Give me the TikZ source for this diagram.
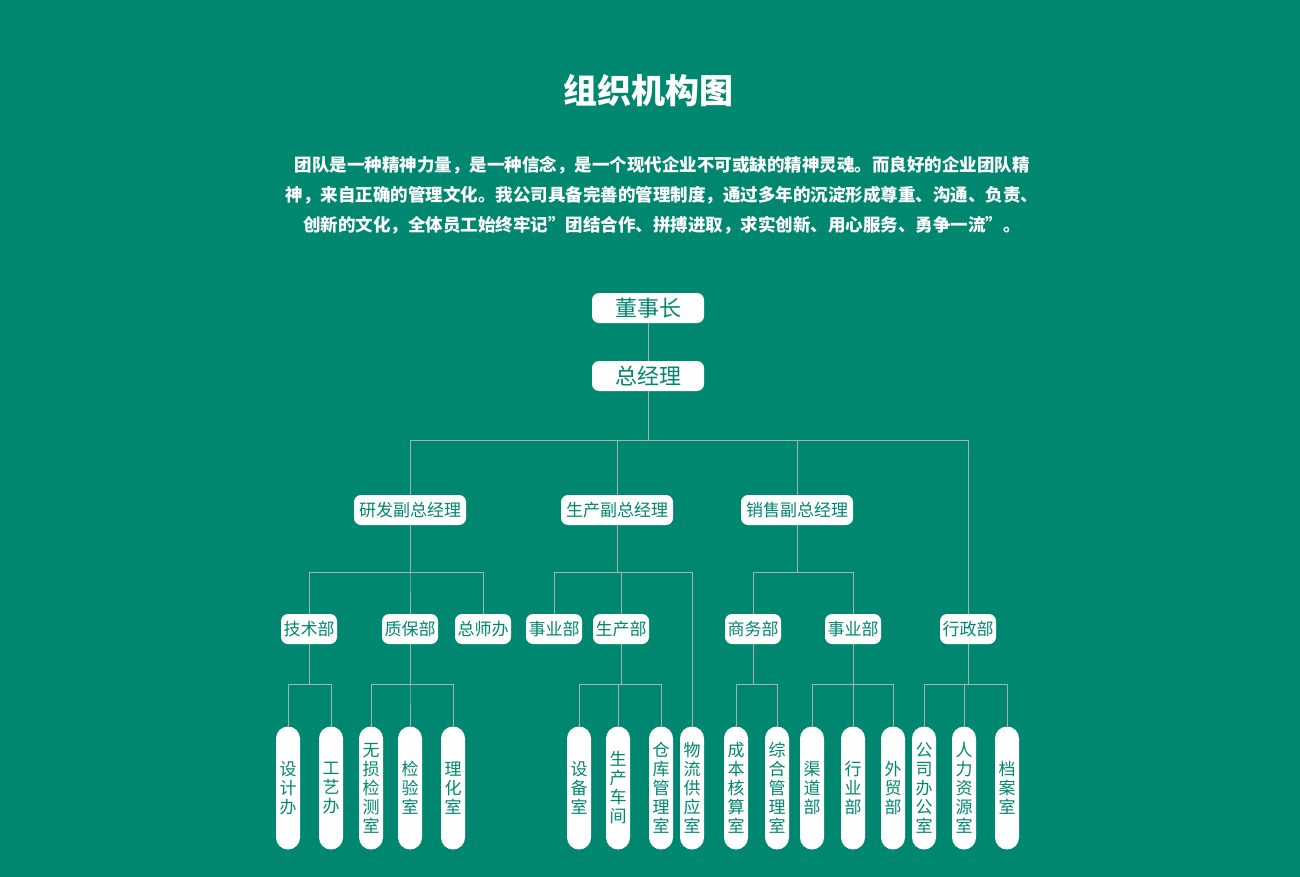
\documentclass[tikz,border=0pt]{standalone}
\usepackage{fontspec}
\setmainfont{Noto Sans CJK SC}
\usetikzlibrary{positioning}
\definecolor{teal}{RGB}{0,135,112}
\definecolor{linegray}{RGB}{170,178,176}
\begin{document}
\begin{tikzpicture}[x=1pt,y=-1pt]
    \tikzstyle{box}=[fill=white,text=teal,rounded corners=7pt,inner sep=0pt,minimum height=30pt]
    \tikzstyle{pill}=[fill=white,text=teal,rounded corners=12pt,inner sep=0pt,minimum width=24pt,minimum height=123pt,align=center,font=\fontsize{17}{19}\selectfont]
    \tikzstyle{link}=[linegray,line width=0.9pt]

    % Background
    \fill[teal] (0,0) rectangle (1300,877);

    % Title and text
    \node[white,font=\bfseries\fontsize{34}{40}\selectfont] (title) at (648,90) {组织机构图};
    \node[white,font=\bfseries\fontsize{17.5}{20}\selectfont] (l1) at (662,165) {团队是一种精神力量，是一种信念，是一个现代企业不可或缺的精神灵魂。而良好的企业团队精};
    \node[white,font=\bfseries\fontsize{17.5}{20}\selectfont] (l2) at (662,195) {神，来自正确的管理文化。我公司具备完善的管理制度，通过多年的沉淀形成尊重、沟通、负责、};
    \node[white,font=\bfseries\fontsize{17.5}{20}\selectfont] (l3) at (662,225) {创新的文化，全体员工始终牢记"团结合作、拼搏进取，求实创新、用心服务、勇争一流"。};

    % Top levels
    \node[box,minimum width=112pt,font=\fontsize{22}{26}\selectfont] (dsz) at (648,308) {董事长};
    \node[box,minimum width=112pt,font=\fontsize{22}{26}\selectfont] (zjl) at (648,376) {总经理};
    \node[box,minimum width=112pt,font=\fontsize{17}{20}\selectfont] (yf) at (410,510) {研发副总经理};
    \node[box,minimum width=112pt,font=\fontsize{17}{20}\selectfont] (sc) at (617,510) {生产副总经理};
    \node[box,minimum width=112pt,font=\fontsize{17}{20}\selectfont] (xs) at (797,510) {销售副总经理};

    % Departments
    \foreach \name/\x/\txt in {jsb/309/技术部, zbb/410/质保部, zsb/483/总师办, syb/554/事业部, scb/621/生产部, swb/753/商务部, syb2/853/事业部, xzb/968/行政部}
        \node[box,minimum width=56pt,font=\fontsize{17}{20}\selectfont] (\name) at (\x,629) {\txt};

    % Offices
    \foreach \name/\x/\txt in {sjb/288/设\\计\\办, gyb/331/工\\艺\\办, wsj/371/无\\损\\检\\测\\室, jys/410/检\\验\\室, lhs/453/理\\化\\室,
        sbs/579/设\\备\\室, scj/618/生\\产\\车\\间, ckg/661/仓\\库\\管\\理\\室, wlg/692/物\\流\\供\\应\\室,
        cbh/736/成\\本\\核\\算\\室, zhg/777/综\\合\\管\\理\\室, qdb/812/渠\\道\\部, hyb/853/行\\业\\部, wmb/893/外\\贸\\部,
        gsb/924/公\\司\\办\\公\\室, rlz/964/人\\力\\资\\源\\室, das/1007/档\\案\\室}
        \node[pill] (\name) at (\x,788) {\txt};

    % Bar levels
    \coordinate (bar0) at (0,440);
    \coordinate (bar1) at (0,572);
    \coordinate (bar2) at (0,684);

    % Connectors
    \draw[link] (dsz) -- (zjl);
    \draw[link] (zjl.south) -- (zjl.south|-bar0);
    \foreach \c in {yf,sc,xs,xzb}
        \draw[link] (zjl.south|-bar0) -| (\c.north);
    \foreach \c in {jsb,zbb,zsb}
        \draw[link] (yf.south) |- (yf.south|-bar1) -| (\c.north);
    \foreach \c in {syb,scb,wlg}
        \draw[link] (sc.south) |- (sc.south|-bar1) -| (\c.north);
    \foreach \c in {swb,syb2}
        \draw[link] (xs.south) |- (xs.south|-bar1) -| (\c.north);
    \foreach \p/\c in {jsb/sjb, jsb/gyb, zbb/wsj, zbb/jys, zbb/lhs, scb/sbs, scb/scj, scb/ckg,
        swb/cbh, swb/zhg, syb2/qdb, syb2/hyb, syb2/wmb, xzb/gsb, xzb/rlz, xzb/das}
        \draw[link] (\p.south) |- (\p.south|-bar2) -| (\c.north);
\end{tikzpicture}
\end{document}
